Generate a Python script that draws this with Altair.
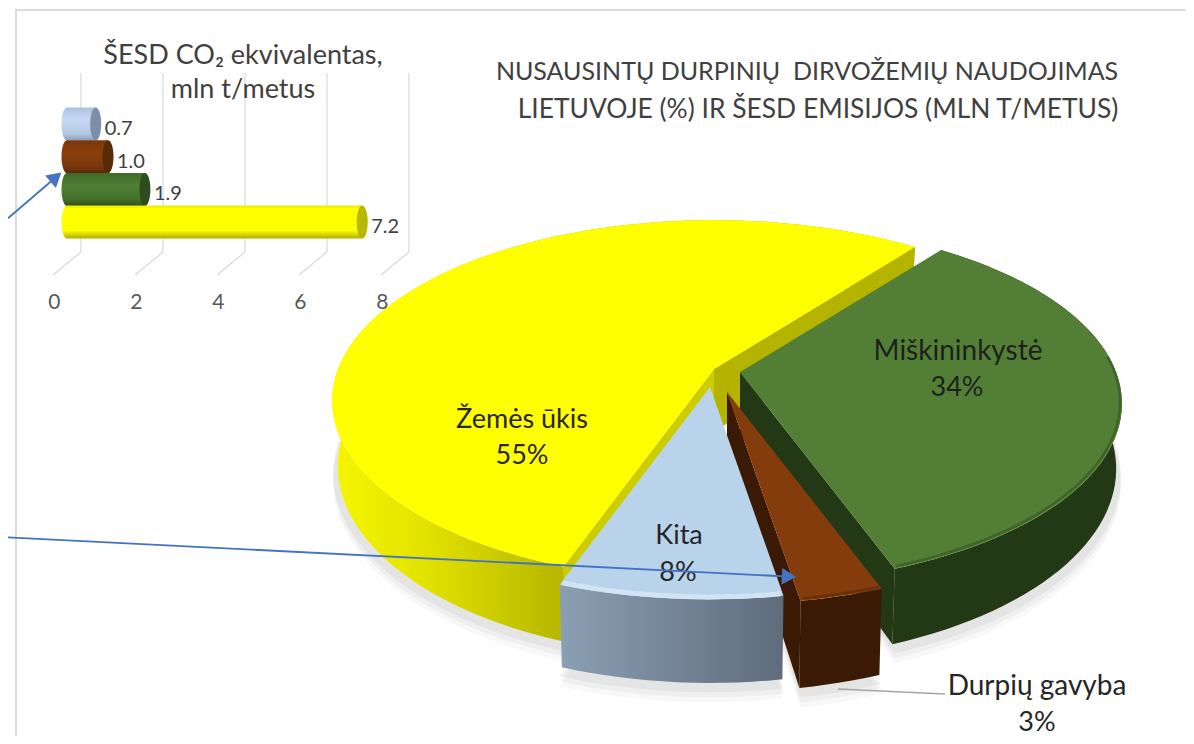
import math
import altair as alt

# ---- data ----
PIE_NAMES = ["Miškininkystė", "Durpių gavyba", "Kita", "Žemės ūkis"]
PIE_SHARES = [34, 3, 8, 55]
BAR_NAMES = ["Kita", "Durpių gavyba", "Miškininkystė", "Žemės ūkis"]
BAR_VALUES = [0.7, 1.0, 1.9, 7.2]
BAR_LABELS = ["0.7", "1.0", "1.9", "7.2"]
TICKS = [0, 2, 4, 6, 8]

FONT = "Lato"
W, H = 1178, 728
XD = [8, 8 + W]
YD = [8 + H, 8]

# ---- view of the pie ----
RX, RY, K, SQUEEZE = 376.0, 175.0, 0.1754, 0.985
TH0 = 37.5
APEX = {"Miškininkystė": (740, 372), "Durpių gavyba": (727, 392),
        "Kita": (710, 387), "Žemės ūkis": (714, 369)}
DEPTH = {"Miškininkystė": 63.0, "Durpių gavyba": 72.0, "Kita": 69.0, "Žemės ūkis": 63.0}


def proj(name, deg, z=0.0, r=1.0, dy=0.0):
    cx, cy = APEX[name]
    t = math.radians(deg)
    w = 1 + K * r * math.cos(t)
    sx = 1 - (1 - SQUEEZE) * z
    return (cx + RX * r * math.sin(t) / w * sx,
            cy - RY * r * math.cos(t) / w + z * DEPTH[name] / w + dy)


def arc_pts(name, a, b, **kw):
    n = max(2, int(abs(b - a) / 2) + 2)
    return [proj(name, a + (b - a) * i / (n - 1), **kw) for i in range(n)]


def xs():
    return alt.X("x:Q", scale=alt.Scale(domain=XD, nice=False, zero=False), axis=None)


def ys():
    return alt.Y("y:Q", scale=alt.Scale(domain=YD, nice=False, zero=False), axis=None)


def poly(pts, fill, opacity=1.0, x_enc=None):
    pts = list(pts) + [pts[0]]
    vals = [{"x": p[0], "y": p[1], "i": i} for i, p in enumerate(pts)]
    return alt.Chart(alt.Data(values=vals)).mark_line(
        fill=fill, strokeWidth=0, opacity=opacity, interpolate="linear", clip=False
    ).encode(x=x_enc or xs(), y=ys(), order="i:Q")


def path(pts, color, width, opacity=1.0, cap="butt"):
    vals = [{"x": p[0], "y": p[1], "i": i} for i, p in enumerate(pts)]
    return alt.Chart(alt.Data(values=vals)).mark_line(
        stroke=color, strokeWidth=width, opacity=opacity, strokeCap=cap
    ).encode(x=xs(), y=ys(), order="i:Q")


def hgrad(*stops):
    return alt.Gradient(gradient="linear", x1=0, x2=1, y1=0, y2=0,
                        stops=[alt.GradientStop(offset=o, color=c) for o, c in stops])


def vgrad(*stops):
    return alt.Gradient(gradient="linear", x1=0, x2=0, y1=0, y2=1,
                        stops=[alt.GradientStop(offset=o, color=c) for o, c in stops])


STYLE = {
    "Žemės ūkis": dict(top="#ffff00", wall=hgrad((0, "#f6f600"), (0.16, "#e2e200"), (0.385, "#b8b800"), (1, "#b8b800")),
                       rim=None),
    "Miškininkystė": dict(top="#527f35", wall="#233815", rim="#3f6428"),
    "Durpių gavyba": dict(top="#843c0c", wall="#3a1a04", rim="#6a2f09"),
    "Kita": dict(top="#b9d3ea", wall=hgrad((0, "#8b9fb4"), (1, "#5f6c7b")), rim="#d0e4f6"),
}
CUT_WALLS = {
    "Žemės ūkis": [(0, "#cccc00"), (1, "#b3b300")],
    "Miškininkystė": [(1, "#233815")],
    "Durpių gavyba": [(1, "#3a1a04")],
    "Kita": [],
}

# angles of each slice from its share
spans = {}
acc = TH0
for name, share in zip(PIE_NAMES, PIE_SHARES):
    spans[name] = (acc, acc + share * 3.6)
    acc += share * 3.6

layers = []

# frame
layers.append(path([(1194, 10), (16, 10), (16, 8 + H)], "#dcdcdc", 2))

# soft shadow
for dy, op in [(16, 0.05), (11, 0.07), (6, 0.09)]:
    for name in ["Žemės ūkis", "Miškininkystė", "Durpių gavyba", "Kita"]:
        a, b = spans[name]
        if name == "Žemės ūkis":
            a_, b_ = a, min(b, 290)
        elif name == "Miškininkystė":
            a_, b_ = 70, b
        else:
            a_, b_ = a, b
        pts = arc_pts(name, a_, b_, z=1.0, r=1.012, dy=dy)
        layers.append(poly(pts + [proj(name, 0, z=1.0, r=0.0, dy=dy)], "#7f7f7f", op))

# slices, back to front
for name in ["Žemės ūkis", "Miškininkystė", "Durpių gavyba", "Kita"]:
    a, b = spans[name]
    st = STYLE[name]
    # outer wall
    top_arc = arc_pts(name, a, b)
    bot_arc = arc_pts(name, a, b, z=1.0)
    layers.append(poly(top_arc + bot_arc[::-1], st["wall"]))
    # cut walls
    for which, col in CUT_WALLS[name]:
        d = a if which == 0 else b
        layers.append(poly([proj(name, 0, r=0.0), proj(name, d),
                            proj(name, d, z=1.0), proj(name, 0, z=1.0, r=0.0)], col))
    # top
    layers.append(poly([proj(name, 0, r=0.0)] + top_arc, st["top"]))
    # bevel on the rim
    if st["rim"]:
        rim_a, rim_b = (max(a, 85), b) if name == "Miškininkystė" else (a, b)
        layers.append(path(arc_pts(name, rim_a + 0.3, rim_b - 0.3, r=0.995, dy=-1),
                           st["rim"], 5 if name == "Kita" else 2.5))

# ---- bar inset: its own x scale, in mln t/metus ----
PX = 41.0
X0 = 67.0
vx = alt.X("x:Q", scale=alt.Scale(domain=[(XD[0] - X0) / PX, (XD[1] - X0) / PX],
                                  nice=False, zero=False), axis=None)

# grid
for t in TICKS:
    vals = [{"x": t + 0.34, "y": 73, "i": 0}, {"x": t + 0.34, "y": 252, "i": 1},
            {"x": t - 0.34, "y": 275, "i": 2}]
    layers.append(alt.Chart(alt.Data(values=vals)).mark_line(
        stroke="#d9d9d9", strokeWidth=1.2).encode(x=vx, y=ys(), order="i:Q"))

layers.append(alt.Chart(alt.Data(values=[{"x": t - 0.31, "y": 303, "t": str(t)} for t in TICKS])).mark_text(
    font=FONT, fontSize=21, color="#595959", align="center", baseline="middle"
).encode(x=vx, y=ys(), text="t:N"))

BAR_STYLE = {
    "Kita": (vgrad((0, "#a9c0e2"), (0.35, "#c6d8f3"), (0.8, "#b4c7e4"), (1, "#8a9cb6")), "#7d8fa8"),
    "Durpių gavyba": (vgrad((0, "#7a370b"), (0.4, "#8a400d"), (0.8, "#7a370b"), (1, "#59280a")), "#5a2908"),
    "Miškininkystė": (vgrad((0, "#3f6a28"), (0.4, "#4f7f34"), (0.8, "#447029"), (1, "#2e4d1b")), "#2e4c1c"),
    "Žemės ūkis": (vgrad((0, "#e8e800"), (0.1, "#ffff00"), (0.75, "#ffff00"), (1, "#adad00")), "#b8b800"),
}
BAR_TOP, BAR_H, BAR_STEP = 107.5, 33.0, 32.7
CAP = 5.5 / PX


def ellipse(vc, y0, y1, fill):
    # cap of a cylinder, in the value scale
    n = 36
    ym, ry = (y0 + y1) / 2, (y1 - y0) / 2
    ang = [2 * math.pi * i / n for i in range(n)]
    return poly([(vc + CAP * math.cos(t), ym + ry * math.sin(t)) for t in ang], fill, x_enc=vx)


for i, (name, val, lab) in enumerate(zip(BAR_NAMES, BAR_VALUES, BAR_LABELS)):
    y0 = BAR_TOP + i * BAR_STEP
    y1 = y0 + BAR_H
    grad, capc = BAR_STYLE[name]
    layers.append(ellipse(0, y0, y1, grad))
    layers.append(alt.Chart(alt.Data(values=[{"x": 0, "x2": val, "y": y0, "y2": y1}])).mark_bar(
        fill=grad).encode(x=vx, x2="x2:Q", y=ys(), y2="y2:Q"))
    layers.append(ellipse(val, y0, y1, capc))
    layers.append(alt.Chart(alt.Data(values=[{"x": val + 0.22, "y": y0 + 21.5, "t": lab}])).mark_text(
        font=FONT, fontSize=20, color="#404040", align="left", baseline="middle"
    ).encode(x=vx, y=ys(), text="t:N"))


# ---- arrows and leader ----
def arrow(x0, y0, x1, y1):
    L = math.hypot(x1 - x0, y1 - y0)
    ux, uy = (x1 - x0) / L, (y1 - y0) / L
    ang = math.degrees(math.atan2(ux, -uy)) % 360
    out = [path([(x0, y0), (x1 - ux * 10, y1 - uy * 10)], "#4472c4", 1.8)]
    out.append(alt.Chart(alt.Data(values=[{"x": x1 - ux * 8, "y": y1 - uy * 8}])).mark_point(
        shape="triangle-up", size=270, filled=True, color="#4472c4", opacity=1, angle=ang
    ).encode(x=xs(), y=ys()))
    return out


layers.append(path([(838, 689), (945, 694)], "#a6a6a6", 1.5))

# ---- texts ----
TEXTS = [
    ("ŠESD CO₂ ekvivalentas,", 243, 56, 27, "#404040"),
    ("mln t/metus", 243, 90, 27, "#404040"),
    ("NUSAUSINTŲ DURPINIŲ\u00a0 DIRVOŽEMIŲ NAUDOJIMAS", 807, 72, 25, "#404040"),
    ("LIETUVOJE (%) IR ŠESD EMISIJOS (MLN T/METUS)", 818, 110, 26.4, "#404040"),
    ("Žemės ūkis", 522, 420, 27, "#262626"),
    ("55%", 522, 456, 27, "#262626"),
    ("Miškininkystė", 958, 352, 28, "#1f1f1f"),
    ("34%", 957, 388, 27, "#1f1f1f"),
    ("Kita", 679, 536, 27, "#262626"),
    ("8%", 678, 573, 27, "#262626"),
    ("Durpių gavyba", 1037, 687, 28, "#262626"),
    ("3%", 1037, 723, 27, "#262626"),
]
for txt, x, y, size, col in TEXTS:
    layers.append(alt.Chart(alt.Data(values=[{"x": x, "y": y, "t": txt}])).mark_text(
        font=FONT, fontSize=size, color=col, align="center", baseline="middle"
    ).encode(x=xs(), y=ys(), text="t:N"))

layers += arrow(8, 218.2, 62, 172)
layers += arrow(8, 537.4, 797, 577)

chart = alt.layer(*layers).resolve_scale(x="independent").properties(
    width=W, height=H, padding=0, autosize=alt.AutoSizeParams(type="none"), background="white"
).configure_view(strokeWidth=0)

chart.save("out.html", embed_options={"renderer": "svg", "actions": False})
